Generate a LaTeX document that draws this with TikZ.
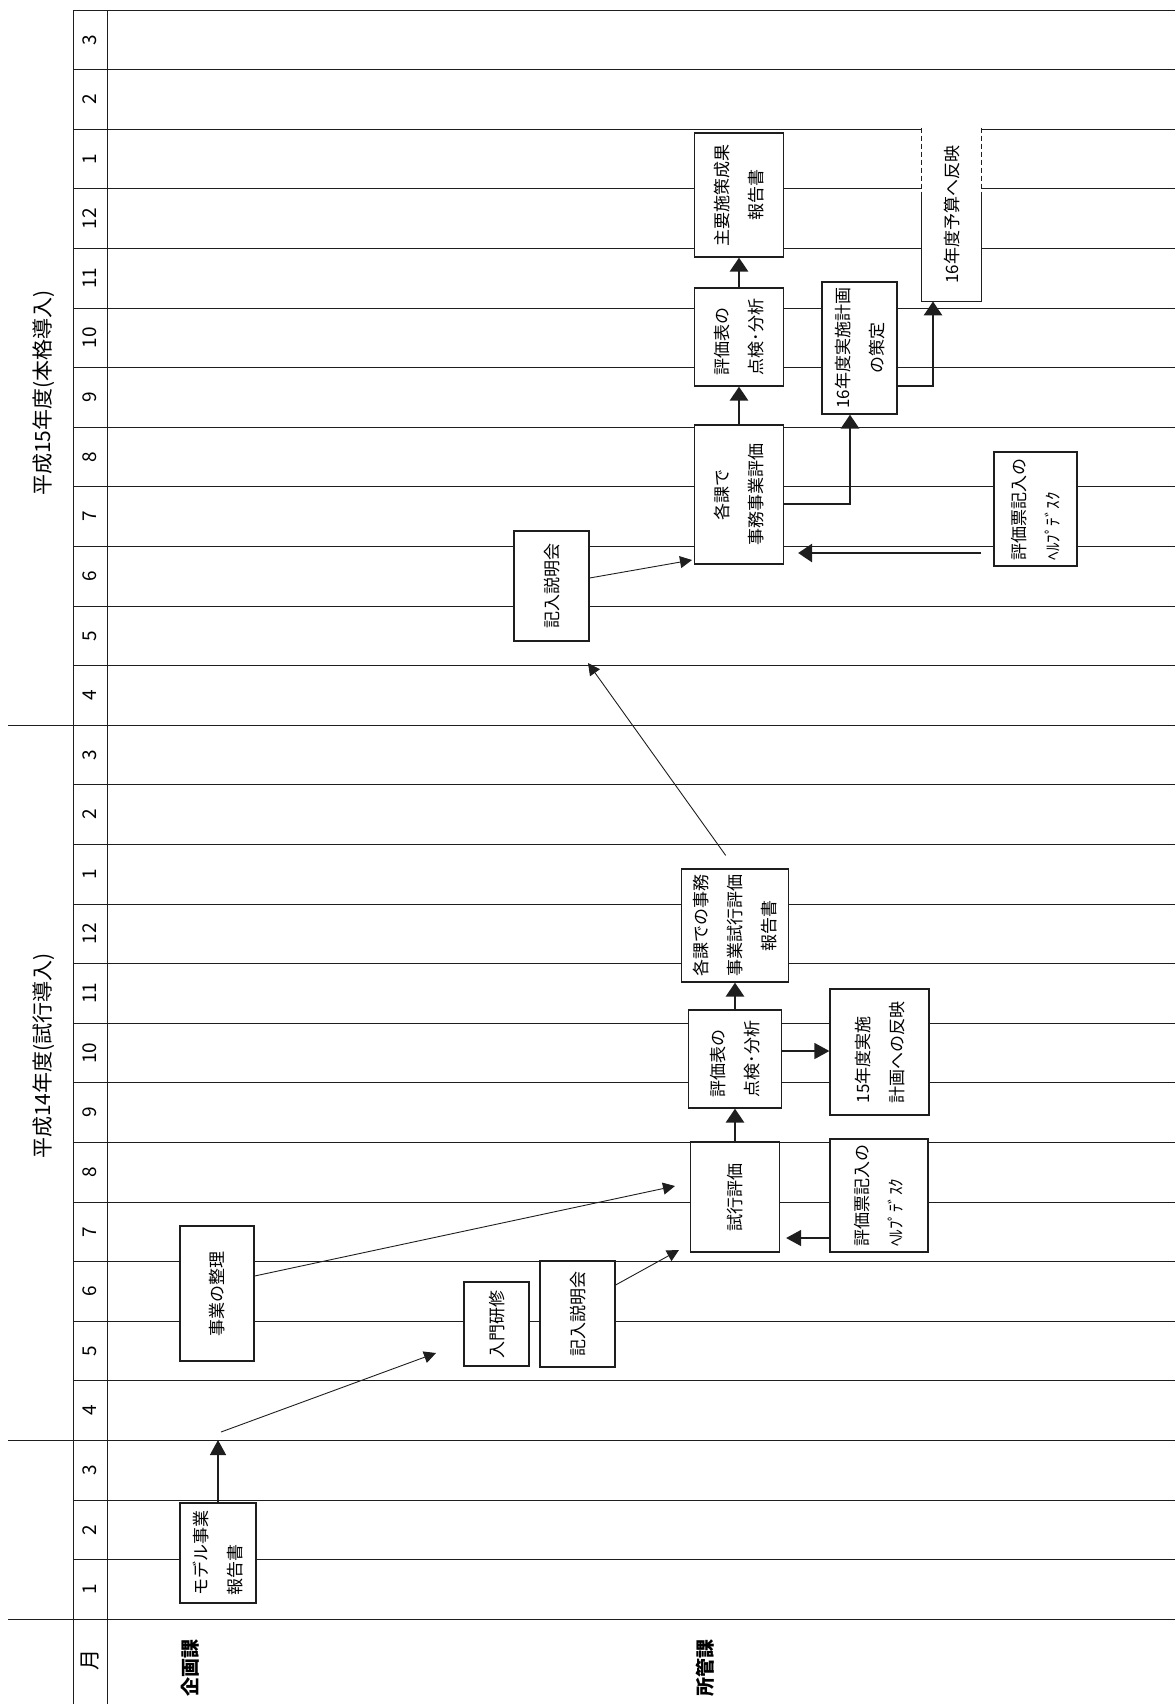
\documentclass[tikz,border=0pt]{standalone}
\usepackage{fontspec}
\setmainfont{Noto Sans CJK JP}
\usepackage{graphicx}
\usepackage{tikz}
\usetikzlibrary{arrows.meta, calc}
\definecolor{trait}{RGB}{30,30,30}
\newcommand{\vcol}[2][c]{\rotatebox{90}{\begin{tabular}{@{}#1@{}}#2\end{tabular}}}

\begin{document}
\begin{tikzpicture}[x=0.5pt, y=-0.5pt, font=\fontsize{8.5}{17}\selectfont,
    gridline/.style={trait, line width=0.5pt},
    cell/.style={draw=trait, fill=white, line width=0.6pt, inner sep=0pt},
    monthlab/.style={rotate=90, font=\fontsize{9.5}{11}\selectfont},
    yearlab/.style={rotate=90, font=\fontsize{10.5}{12}\selectfont},
    deptlab/.style={rotate=90, font=\bfseries\fontsize{9.5}{11}\selectfont},
    arrowfine/.style={trait, line width=0.45pt, -{Triangle[length=6pt, width=6pt]}},
    arrowmid/.style={trait, line width=0.7pt, -{Triangle[length=7.5pt, width=8pt]}},
    arrowbold/.style={trait, line width=1.4pt, -{Triangle[length=7pt, width=9pt]}}]
  \useasboundingbox (0,0) rectangle (1175,1704);

  % grille des mois
  \foreach \k in {0,...,27}
    \draw[gridline] (73,{10+59.6*\k}) -- (1175,{10+59.6*\k});
  \foreach \k in {12,24,27}
    \draw[gridline] (8,{10+59.6*\k}) -- (73,{10+59.6*\k});
  \draw[gridline] (73,10) -- (73,1704);
  \draw[gridline] (107,10) -- (107,1704);

  % mois et en-tetes
  \foreach \m [count=\k from 0] in {3,2,1,12,11,10,9,8,7,6,5,4,3,2,1,12,11,10,9,8,7,6,5,4,3,2,1}
    \node[monthlab] (mois\k) at (90,{39.8+59.6*\k}) {\m};
  \node[monthlab, font=\fontsize{10.5}{12}\selectfont] (entete) at (90,1660) {月};
  \node[yearlab] (h15) at (44,393) {平成15年度(本格導入)};
  \node[yearlab] (h14) at (44,1056) {平成14年度(試行導入)};
  \node[deptlab] (kikaku) at (190,1668) {企画課};
  \node[deptlab] (shokan) at (705,1668) {所管課};

  % cases 14
  \node[cell, minimum width=38pt, minimum height=50pt] (model) at (218,1553) {\vcol[l]{モデル事業\\報告書}};
  \node[cell, minimum width=37pt, minimum height=67.5pt] (seiri) at (217,1293.5) {\vcol{事業の整理}};
  \node[cell, minimum width=32.5pt, minimum height=42pt] (nyumon) at (496.5,1324) {\vcol{入門研修}};
  \node[cell, minimum width=37.5pt, minimum height=53pt] (setsumei14) at (577.5,1314) {\vcol{記入説明会}};
  \node[cell, minimum width=44.5pt, minimum height=55pt] (shiko) at (735,1197) {\vcol{試行評価}};
  \node[cell, minimum width=46.5pt, minimum height=49pt] (tenken14) at (735,1059) {\vcol[l]{評価表の\\点検･分析}};
  \node[cell, minimum width=53.5pt, minimum height=56.5pt] (houkoku14) at (735,925.5) {\vcol{各課での事務\\事業試行評価\\報告書}};
  \node[cell, minimum width=49.5pt, minimum height=63pt] (hanei15) at (879.5,1052) {\vcol[l]{15年度実施\\計画への反映}};
  \node[cell, minimum width=49pt, minimum height=56.5pt] (help14) at (879,1195.5) {\vcol[l]{評価票記入の\\ﾍﾙﾌﾟﾃﾞｽｸ}};

  % cases 15
  \node[cell, minimum width=37.5pt, minimum height=55pt] (setsumei15) at (551.5,586) {\vcol{記入説明会}};
  \node[cell, minimum width=44.5pt, minimum height=69.5pt] (kakuka15) at (739,494.5) {\vcol{各課で\\事務事業評価}};
  \node[cell, minimum width=41.5pt, minimum height=57pt] (help15) at (1035.5,509) {\vcol[l]{評価票記入の\\ﾍﾙﾌﾟﾃﾞｽｸ}};
  \node[cell, minimum width=44.5pt, minimum height=49pt] (tenken15) at (739,337) {\vcol[l]{評価表の\\点検･分析}};
  \node[cell, minimum width=44.5pt, minimum height=62pt] (shuyo) at (739,195) {\vcol{主要施策成果\\報告書}};
  \node[cell, minimum width=37.5pt, minimum height=66pt] (plan16) at (859.5,348) {\vcol{16年度実施計画\\の策定}};

  % case ouverte
  \node[fill=white, inner sep=0pt, minimum width=29.5pt, minimum height=86.5pt] (yosan16) at (951.5,214.5) {\vcol{16年度予算へ反映}};
  \coordinate (cassure) at (0,197);
  \draw[trait, line width=0.6pt, dash pattern=on 2.5pt off 1.5pt] (yosan16.north west) -- (yosan16.north west |- cassure);
  \draw[trait, line width=0.6pt, dash pattern=on 2.5pt off 1.5pt] (yosan16.north east) -- (yosan16.north east |- cassure);
  \draw[trait, line width=0.6pt] (yosan16.north west |- cassure) -- (yosan16.south west) -- (yosan16.south east) -- (yosan16.north east |- cassure);

  % fleches 14
  \coordinate (tipModel) at (218,1440);
  \coordinate (fromModel) at (221,1432);
  \coordinate (toNyumon) at (436,1353);
  \coordinate (toShikoA) at (675,1186);
  \coordinate (toShikoB) at (679,1250);
  \draw[arrowmid] (model.north) -- (tipModel);
  \draw[arrowfine] (fromModel) -- (toNyumon);
  \draw[arrowfine] ([yshift=8.75pt]seiri.east) -- (toShikoA);
  \draw[arrowfine] ([yshift=14.5pt]setsumei14.east) -- (toShikoB);
  \draw[arrowbold] (shiko.north) -- (tenken14.south);
  \draw[arrowbold] (tenken14.north) -- (houkoku14.south);
  \draw[arrowmid] ([yshift=4pt]tenken14.east) -- ([yshift=4pt]tenken14.east -| hanei15.west);
  \draw[arrowmid, shorten >=3pt] ([yshift=-21.25pt]help14.west) -- ([yshift=-21.25pt]help14.west -| shiko.east);

  % fleches 15
  \coordinate (toKinyu) at (588,663);
  \coordinate (toKakuka) at (692,560);
  \draw[arrowfine, shorten <=8pt] (houkoku14.north) -- (toKinyu);
  \draw[arrowfine] ([yshift=4pt]setsumei15.east) -- (toKakuka);
  \draw[arrowbold, shorten <=6pt, shorten >=7pt] ([yshift=-22pt]help15.west) -- ([yshift=-22pt]help15.west -| kakuka15.east);
  \draw[arrowbold] (kakuka15.north) -- (tenken15.south);
  \draw[arrowbold] (tenken15.north) -- (shuyo.south);
  \draw[arrowbold] ([yshift=-4.75pt]kakuka15.east) -| ([xshift=-4.75pt]plan16.south);
  \draw[arrowbold] ([yshift=-19pt]plan16.east) -| ([xshift=-9.25pt]yosan16.south);
\end{tikzpicture}
\end{document}
